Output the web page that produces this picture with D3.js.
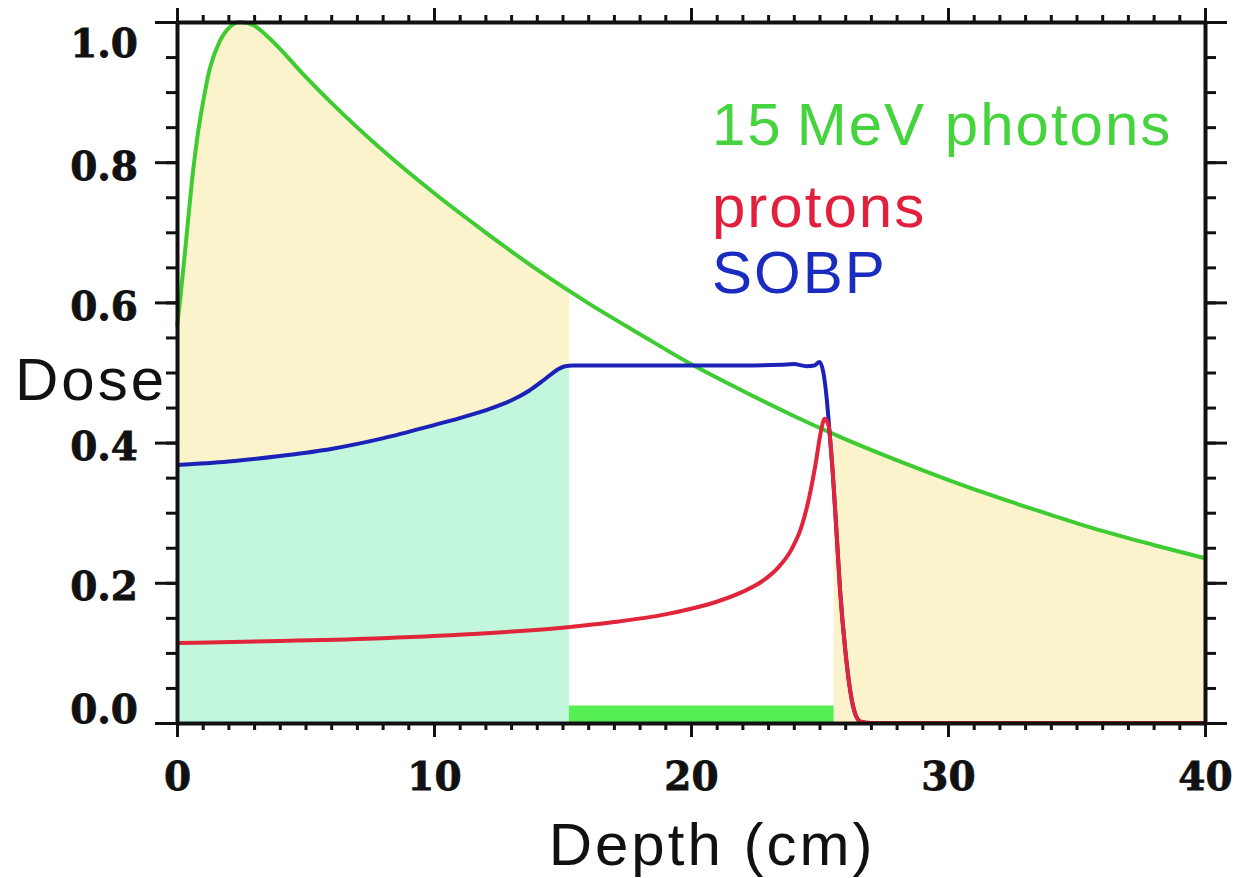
<!DOCTYPE html>
<html>
<head>
<meta charset="utf-8">
<script src="https://cdn.jsdelivr.net/npm/d3@7"></script>
<style>
  body { margin: 0; background: #fff; }
  svg { display: block; }
</style>
</head>
<body>
<svg id="chart" width="1244" height="878"></svg>
<script>
// axis domains and tick labels
const depthDomain = [0, 40];
const doseDomain = [0, 1];
const depthTicks = [0, 10, 20, 30, 40];
const doseTicks = [0, 0.2, 0.4, 0.6, 0.8, 1.0];
const depthMinorStep = 1;
const doseMinorStep = 0.05;

// 15 MeV photon depth dose
const photonDepth = [0, 0.12, 0.38, 0.57, 0.77, 1.02, 1.28, 1.67, 2.06, 2.45, 3, 3.5, 4, 4.5, 5, 6, 7, 8,
  10, 12, 14, 16, 18, 20, 22, 24, 26, 28, 30, 32, 34, 36, 38, 40];
const photonDose = [0.565, 0.603, 0.698, 0.769, 0.83, 0.887, 0.934, 0.973, 0.993, 1.0, 0.995, 0.980, 0.962, 0.942, 0.922, 0.885, 0.850, 0.817,
  0.756, 0.700, 0.647, 0.599, 0.555, 0.512, 0.474, 0.438, 0.405, 0.375, 0.347, 0.321, 0.297, 0.274, 0.254, 0.235];

// pristine proton Bragg peak
const protonDepth = [0, 4, 8, 12, 15, 17, 19, 20, 21, 22, 22.8, 23.4, 23.9, 24.3, 24.6, 24.85, 25.05, 25.2,
  25.35, 25.5, 25.65, 25.8, 26.0, 26.2, 26.4, 26.6, 27, 40];
const protonDose = [0.114, 0.117, 0.121, 0.128, 0.136, 0.144, 0.155, 0.163, 0.173, 0.187, 0.203, 0.222, 0.247, 0.280, 0.322, 0.370, 0.415, 0.434,
  0.425, 0.365, 0.28, 0.19, 0.105, 0.045, 0.012, 0.002, 0, 0];

// spread out Bragg peak
const sobpDepth = [0, 2, 4, 6, 8, 10, 11, 12, 13, 13.7, 14.3, 14.8, 15.1, 15.4, 18, 22, 23.5, 24, 24.5, 24.8, 25.0,
  25.15, 25.28, 25.35, 25.5, 25.65, 25.8, 26.0, 26.2, 26.4, 26.6, 27, 40];
const sobpDose = [0.368, 0.373, 0.381, 0.391, 0.406, 0.425, 0.435, 0.446, 0.460, 0.474, 0.490, 0.504, 0.509, 0.510, 0.510, 0.510, 0.511, 0.512, 0.509, 0.510, 0.515,
  0.50, 0.463, 0.434, 0.365, 0.28, 0.19, 0.105, 0.045, 0.012, 0.002, 0, 0];

// shaded depth ranges
const proximalRange = [0, 15.25];
const targetRange = [15.25, 25.55];
const distalRange = [25.55, 40];
const targetBarDose = 0.025;

const legendLabels = ["15\u2009MeV photons", "protons", "SOBP"];

const colors = {
  photon: "#3fcc33",
  proton: "#e0243a",
  sobp: "#1c22b8",
  photonText: "#46d43e",
  protonText: "#e2203e",
  sobpText: "#1a2cc0",
  photonFill: "#faf3cc",
  sobpFill: "#c2f7de",
  target: "#55ee55",
  axis: "#111",
};

const margin = { top: 22, right: 39, bottom: 155, left: 177 };
const width = 1244 - margin.left - margin.right;
const height = 878 - margin.top - margin.bottom;

const svg = d3.select("#chart");
const g = svg.append("g").attr("transform", `translate(${margin.left},${margin.top})`);

const x = d3.scaleLinear().domain(depthDomain).range([0, width]);
const y = d3.scaleLinear().domain(doseDomain).range([height, 0]);

const zip = (xs, ys) => xs.map((d, i) => ({ depth: d, dose: ys[i] }));
const photons = zip(photonDepth, photonDose);
const protons = zip(protonDepth, protonDose);
const sobp = zip(sobpDepth, sobpDose);

// clip paths for the shaded ranges
const defs = svg.append("defs");
defs.append("clipPath").attr("id", "clip-photon")
  .selectAll("rect")
  .data([proximalRange, distalRange])
  .join("rect")
  .attr("x", (d) => x(d[0]))
  .attr("width", (d) => x(d[1]) - x(d[0]))
  .attr("y", 0)
  .attr("height", height);

defs.append("clipPath").attr("id", "clip-sobp")
  .append("rect")
  .attr("x", x(proximalRange[0]))
  .attr("width", x(proximalRange[1]) - x(proximalRange[0]))
  .attr("y", 0)
  .attr("height", height);

const area = d3.area()
  .x((d) => x(d.depth))
  .y0(y(0))
  .y1((d) => y(d.dose))
  .curve(d3.curveMonotoneX);

const line = d3.line()
  .x((d) => x(d.depth))
  .y((d) => y(d.dose))
  .curve(d3.curveMonotoneX);

g.append("path")
  .datum(photons)
  .attr("d", area)
  .attr("fill", colors.photonFill)
  .attr("clip-path", "url(#clip-photon)");

g.append("path")
  .datum(sobp)
  .attr("d", area)
  .attr("fill", colors.sobpFill)
  .attr("clip-path", "url(#clip-sobp)");

// target region bar
g.append("rect")
  .attr("x", x(targetRange[0]))
  .attr("width", x(targetRange[1]) - x(targetRange[0]))
  .attr("y", y(targetBarDose))
  .attr("height", y(0) - y(targetBarDose))
  .attr("fill", colors.target);

const curves = [
  { data: photons, color: colors.photon },
  { data: sobp, color: colors.sobp },
  { data: protons, color: colors.proton },
];

g.selectAll(".curve")
  .data(curves)
  .join("path")
  .attr("class", "curve")
  .attr("d", (d) => line(d.data))
  .attr("fill", "none")
  .attr("stroke", (d) => d.color)
  .attr("stroke-width", 4)
  .attr("stroke-linejoin", "round");

// axes
const depthMinor = d3.range(depthDomain[0], depthDomain[1] + 0.001, depthMinorStep);
const doseMinor = d3.range(doseDomain[0], doseDomain[1] + 0.001, doseMinorStep);

function styleAxis(sel) {
  sel.select(".domain").attr("stroke", colors.axis).attr("stroke-width", 4);
  sel.selectAll(".tick line").attr("stroke", colors.axis).attr("stroke-width", 3);
  sel.selectAll(".tick text")
    .attr("fill", colors.axis)
    .attr("stroke", colors.axis)
    .attr("stroke-width", 0.8)
    .style("font-family", "'DejaVu Serif', serif")
    .style("font-weight", "bold")
    .style("font-size", "39px");
}

const axisDefs = [
  { gen: d3.axisBottom, scale: x, minor: depthMinor, major: depthTicks, at: [0, height], majorLen: 14, minorLen: 7, labels: true },
  { gen: d3.axisTop, scale: x, minor: depthMinor, major: depthTicks, at: [0, 0], majorLen: 14, minorLen: 7, labels: false },
  { gen: d3.axisLeft, scale: y, minor: doseMinor, major: doseTicks, at: [0, 0], majorLen: 22, minorLen: 11, labels: true },
  { gen: d3.axisRight, scale: y, minor: doseMinor, major: doseTicks, at: [width, 0], majorLen: 22, minorLen: 11, labels: false },
];

axisDefs.forEach((a) => {
  g.append("g")
    .attr("transform", `translate(${a.at[0]},${a.at[1]})`)
    .call(a.gen(a.scale).tickValues(a.minor).tickSize(a.minorLen).tickSizeOuter(0).tickFormat(""))
    .call(styleAxis);

  const major = g.append("g")
    .attr("transform", `translate(${a.at[0]},${a.at[1]})`)
    .call(a.gen(a.scale).tickValues(a.major).tickSize(a.majorLen).tickSizeOuter(0)
      .tickPadding(a.scale === x ? 25 : 17)
      .tickFormat(a.labels ? (a.scale === x ? d3.format("d") : d3.format(".1f")) : ""))
    .call(styleAxis);
  major.select(".domain").remove();

  if (a.labels && a.scale === y) {
    major.selectAll(".tick text")
      .attr("dy", null)
      .attr("dominant-baseline", "central")
      .attr("y", (d) => (d === 1 ? 20 : d === 0 ? -15 : 3));
  }
});

// axis titles
const sans = "'Liberation Sans', Arial, Helvetica, sans-serif";

svg.append("text")
  .attr("x", 15)
  .attr("y", 400)
  .attr("fill", "#111")
  .style("font-family", sans)
  .style("font-size", "60px")
  .style("letter-spacing", "3px")
  .text("Dose");

svg.append("text")
  .attr("x", 712)
  .attr("y", 865)
  .attr("text-anchor", "middle")
  .attr("fill", "#111")
  .style("font-family", sans)
  .style("font-size", "60px")
  .style("letter-spacing", "3px")
  .text("Depth (cm)");

// legend
const legendY = [145, 227, 293];
const legendColors = [colors.photonText, colors.protonText, colors.sobpText];

svg.selectAll(".legend")
  .data(legendLabels)
  .join("text")
  .attr("class", "legend")
  .attr("x", 712)
  .attr("y", (d, i) => legendY[i])
  .attr("fill", (d, i) => legendColors[i])
  .style("font-family", sans)
  .style("font-size", "60px")
  .style("letter-spacing", "2px")
  .text((d) => d);
</script>
</body>
</html>
